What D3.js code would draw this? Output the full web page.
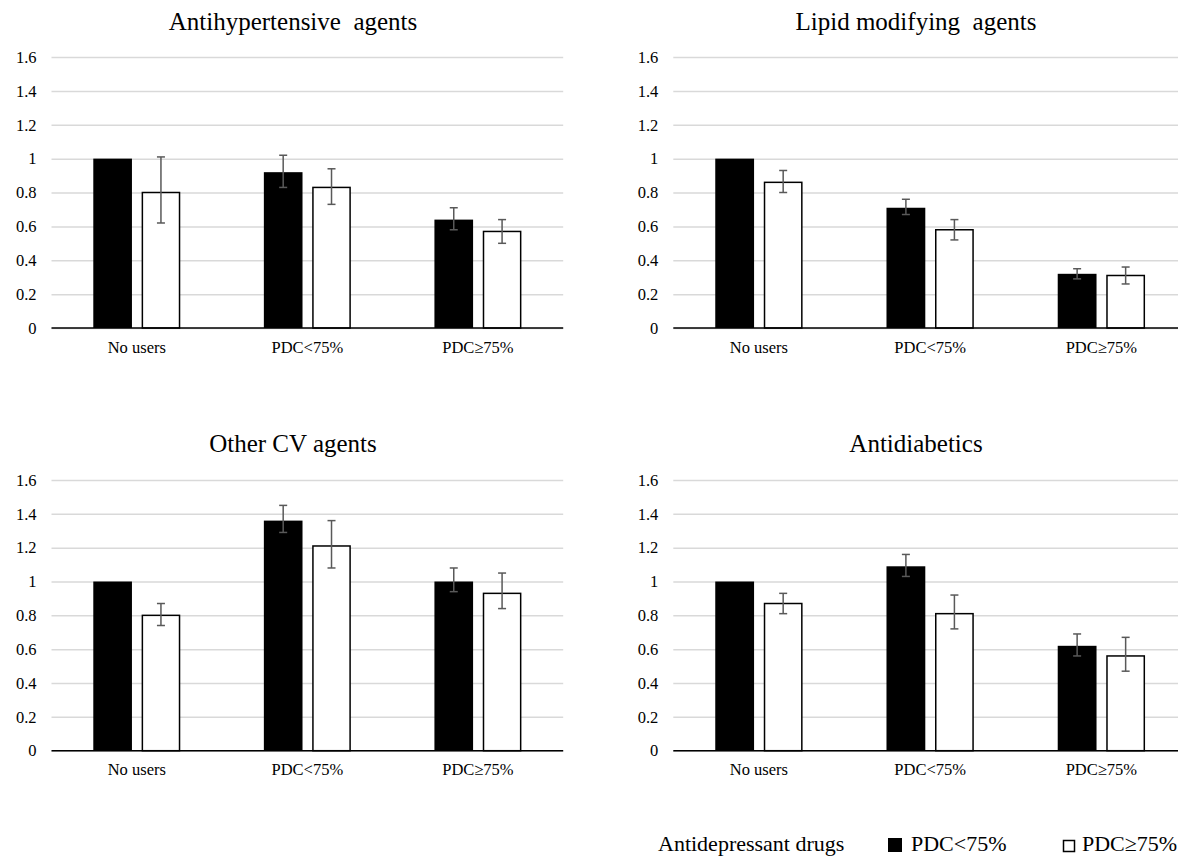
<!DOCTYPE html>
<html lang="en">
  <head>
    <meta charset="UTF-8" />
    <title>Antidepressant adherence by CV drug adherence</title>
    <script src="https://d3js.org/d3.v7.min.js"></script>
    <style>
      body {
        margin: 0;
        background: #fff;
      }
      svg {
        display: block;
        font-family: "Liberation Serif", "Times New Roman", serif;
      }
      .grid line {
        stroke: #d9d9d9;
        stroke-width: 1.5px;
      }
      .grid .domain {
        display: none;
      }
      .xaxis .domain {
        stroke: #000;
        stroke-width: 1.5px;
      }
      .err {
        stroke: #595959;
        stroke-width: 1.5px;
        fill: none;
      }
      .title {
        font-size: 25px;
        white-space: pre;
      }
      .legend text {
        font-size: 22px;
      }
    </style>
  </head>
  <body>
    <svg width="1178" height="859"></svg>

    <script>
      // categorías del eje x y series
      const categories = ["No users", "PDC<75%", "PDC≥75%"];
      const seriesNames = ["PDC<75%", "PDC≥75%"];
      const yTicks = [0, 0.2, 0.4, 0.6, 0.8, 1, 1.2, 1.4, 1.6];

      const panelTitles = [
        "Antihypertensive  agents",
        "Lipid modifying  agents",
        "Other CV agents",
        "Antidiabetics",
      ];

      // valores (barra negra = PDC<75%, blanca = PDC≥75%)
      const antihypLt = [1.0, 0.92, 0.64];
      const antihypGe = [0.8, 0.83, 0.57];
      const antihypLtCI = [null, [0.83, 1.02], [0.58, 0.71]];
      const antihypGeCI = [[0.62, 1.01], [0.73, 0.94], [0.5, 0.64]];

      const lipidLt = [1.0, 0.71, 0.32];
      const lipidGe = [0.86, 0.58, 0.31];
      const lipidLtCI = [null, [0.67, 0.76], [0.29, 0.35]];
      const lipidGeCI = [[0.8, 0.93], [0.52, 0.64], [0.26, 0.36]];

      const otherCvLt = [1.0, 1.36, 1.0];
      const otherCvGe = [0.8, 1.21, 0.93];
      const otherCvLtCI = [null, [1.29, 1.45], [0.94, 1.08]];
      const otherCvGeCI = [[0.74, 0.87], [1.08, 1.36], [0.84, 1.05]];

      const diabLt = [1.0, 1.09, 0.62];
      const diabGe = [0.87, 0.81, 0.56];
      const diabLtCI = [null, [1.03, 1.16], [0.56, 0.69]];
      const diabGeCI = [[0.81, 0.93], [0.72, 0.92], [0.47, 0.67]];

      const panelData = [
        [antihypLt, antihypGe, antihypLtCI, antihypGeCI],
        [lipidLt, lipidGe, lipidLtCI, lipidGeCI],
        [otherCvLt, otherCvGe, otherCvLtCI, otherCvGeCI],
        [diabLt, diabGe, diabLtCI, diabGeCI],
      ];

      // posición de cada panel
      const layout = [
        { x: [51.5, 563.2], y: [328, 57], titleX: 293, titleY: 30 },
        { x: [673.3, 1187], y: [328, 57], titleX: 916, titleY: 30 },
        { x: [51.5, 563.2], y: [750.7, 480], titleX: 293, titleY: 452 },
        { x: [673.3, 1187], y: [750.7, 480], titleX: 916, titleY: 452 },
      ];

      const svg = d3.select("svg");
      const fills = ["#000", "#fff"];
      const serif = '"Liberation Serif", "Times New Roman", serif';

      // quita la fuente sans-serif que pone d3.axis
      const serifTicks = (a) => {
        a.attr("font-family", null).attr("font-size", null);
        a.selectAll("text")
          .style("font-family", serif)
          .style("font-size", "16.5px")
          .attr("fill", "#000");
      };

      panelTitles.forEach((title, i) => {
        const L = layout[i];
        const [lt, ge, ltCI, geCI] = panelData[i];
        const g = svg.append("g");

        const y = d3.scaleLinear().domain([0, 1.6]).range(L.y);
        const x0 = d3
          .scaleBand()
          .domain(categories)
          .range(L.x)
          .paddingInner(0.49)
          .paddingOuter(0.245);
        const x1 = d3
          .scaleBand()
          .domain(seriesNames)
          .range([0, x0.bandwidth()])
          .paddingInner(0.2);

        // rejilla y etiquetas del eje y
        g.append("g")
          .attr("class", "grid")
          .attr("transform", `translate(${L.x[0]},0)`)
          .call(
            d3
              .axisLeft(y)
              .tickValues(yTicks)
              .tickSize(-(L.x[1] - L.x[0]))
              .tickPadding(15)
              .tickFormat((d) => String(+d.toFixed(1)))
          )
          .call(serifTicks);

        const rows = categories.map((c, j) => ({
          cat: c,
          bars: [
            { s: 0, v: lt[j], ci: ltCI[j] },
            { s: 1, v: ge[j], ci: geCI[j] },
          ],
        }));

        const grp = g
          .append("g")
          .selectAll("g")
          .data(rows)
          .enter()
          .append("g")
          .attr("transform", (d) => `translate(${x0(d.cat)},0)`);

        const bar = grp
          .selectAll("g")
          .data((d) => d.bars)
          .enter()
          .append("g");

        bar
          .append("rect")
          .attr("x", (d) => x1(seriesNames[d.s]) + (d.s ? 0.75 : 0))
          .attr("width", (d) => x1.bandwidth() - (d.s ? 1.5 : 0))
          .attr("y", (d) => y(d.v))
          .attr("height", (d) => y(0) - y(d.v))
          .attr("fill", (d) => fills[d.s])
          .attr("stroke", (d) => (d.s ? "#000" : "none"))
          .attr("stroke-width", 1.5);

        // barras de error
        const eb = bar.filter((d) => d.ci);
        const cx = (d) => x1(seriesNames[d.s]) + x1.bandwidth() / 2;
        eb.append("line")
          .attr("class", "err")
          .attr("x1", cx)
          .attr("x2", cx)
          .attr("y1", (d) => y(d.ci[0]))
          .attr("y2", (d) => y(d.ci[1]));
        [0, 1].forEach((k) => {
          eb.append("line")
            .attr("class", "err")
            .attr("x1", (d) => cx(d) - 4)
            .attr("x2", (d) => cx(d) + 4)
            .attr("y1", (d) => y(d.ci[k]))
            .attr("y2", (d) => y(d.ci[k]));
        });

        // eje x
        g.append("g")
          .attr("class", "xaxis")
          .attr("transform", `translate(0,${y(0)})`)
          .call(d3.axisBottom(x0).tickSize(0).tickPadding(13))
          .call(serifTicks)
          .call((a) => a.select(".domain").attr("d", `M${L.x[0]},0H${L.x[1]}`));

        g.append("text")
          .attr("class", "title")
          .attr("x", L.titleX)
          .attr("y", L.titleY)
          .attr("text-anchor", "middle")
          .text(title);
      });

      // leyenda
      const legend = svg.append("g").attr("class", "legend");
      legend.append("text").attr("x", 658).attr("y", 851).text("Antidepressant drugs");
      legend.append("rect").attr("x", 888).attr("y", 838).attr("width", 14).attr("height", 14).attr("fill", "#000");
      legend.append("text").attr("x", 911).attr("y", 851).text(seriesNames[0]);
      legend
        .append("rect")
        .attr("x", 1063.5)
        .attr("y", 840.5)
        .attr("width", 11)
        .attr("height", 11)
        .attr("fill", "#fff")
        .attr("stroke", "#000")
        .attr("stroke-width", 1.5);
      legend.append("text").attr("x", 1082).attr("y", 851).text(seriesNames[1]);
    </script>
  </body>
</html>
